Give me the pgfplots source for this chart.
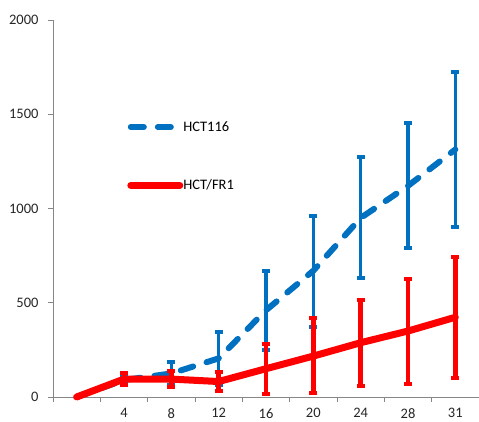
\documentclass[border=0pt]{standalone}
\usepackage{fontspec}
\setmainfont{Carlito}
\usepackage{pgfplots}
\pgfplotsset{compat=1.18}
\definecolor{cblue}{HTML}{0070C0}
\definecolor{cred}{HTML}{FF0000}
\definecolor{axgray}{HTML}{868686}
\begin{document}
\begin{tikzpicture}
\path[use as bounding box] (-53pt,-25pt) rectangle (426pt,397pt);
\begin{axis}[
  scale only axis, width=426pt, height=377pt,
  xmin=-0.5, xmax=8.5, ymin=0, ymax=2000,
  clip=false,
  axis x line*=bottom, axis y line*=left,
  axis line style={axgray, line width=0.8pt},
  xtick={1,...,8}, xticklabels={4,8,12,16,20,24,28,31},
  minor xtick={-0.5,0.5,...,8.5},
  major x tick style={draw=none},
  minor x tick style={axgray, line width=0.8pt},
  ytick={0,500,...,2000},
  y tick style={axgray, line width=0.8pt},
  tick align=outside,
  major tick length=5pt, minor tick length=5pt,
  tick label style={font=\fontsize{14.5}{16}\selectfont, text=black!85},
  /pgf/number format/assume math mode=true,
  /pgf/number format/1000 sep={},
  yticklabel style={xshift=-6pt},
  xticklabel style={yshift=-3pt},
  legend style={at={(axis description cs:0.174,0.737)}, anchor=north west, draw=none, fill=none,
    font=\fontsize{14.5}{16}\selectfont, row sep=43pt, inner sep=0pt, nodes={inner xsep=0pt}},
  legend cell align=left,
  legend image code/.code={\draw[#1] (0pt,0pt) -- (49pt,0pt);},
  every axis plot/.append style={line join=round},
]
\addplot[cblue, line width=6pt, dash pattern=on 13pt off 14pt, line cap=round,
  error bars/.cd, y dir=both, y explicit, error mark=|,
  error bar style={line width=3.5pt, solid, line cap=butt},
  error mark options={line width=4pt, mark size=4pt, solid}]
coordinates {
  (0,0)
  (1,90) +- (0,20)
  (2,125) +- (0,60)
  (3,205) +- (0,140)
  (4,460) += (0,208) -= (0,210)
  (5,670) += (0,290) -= (0,300)
  (6,950) += (0,323) -= (0,320)
  (7,1120) += (0,333) -= (0,330)
  (8,1313) += (0,411) -= (0,411)
};
\addlegendentry{HCT116}
\addplot[cred, line width=7pt, line cap=round,
  error bars/.cd, y dir=both, y explicit, error mark=|,
  error bar style={line width=4.5pt, solid, line cap=butt},
  error mark options={line width=4pt, mark size=4pt, solid}]
coordinates {
  (0,0)
  (1,95) += (0,34) -= (0,31)
  (2,95) += (0,45) -= (0,40)
  (3,82) += (0,52) -= (0,49)
  (4,150) += (0,131) -= (0,134)
  (5,217) += (0,202) -= (0,194)
  (6,288) += (0,227) -= (0,230)
  (7,350) += (0,274) -= (0,283)
  (8,423) += (0,321) -= (0,324)
};
\addlegendentry{HCT/FR1}
\end{axis}
\end{tikzpicture}
\end{document}
